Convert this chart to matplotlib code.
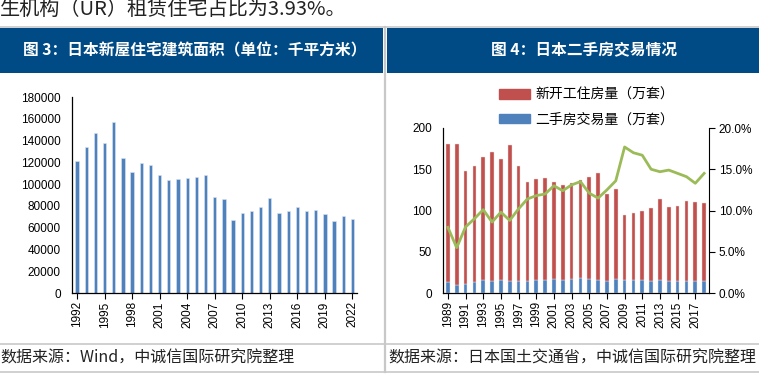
import numpy as np
import matplotlib
matplotlib.use("Agg")
from matplotlib import pyplot as plt
from matplotlib.patches import Rectangle, Patch
from matplotlib.lines import Line2D
from matplotlib.ticker import FuncFormatter

plt.rcParams['font.family'] = ['Liberation Sans', 'Noto Sans CJK SC', 'DejaVu Sans']

# figure 3: new housing floor area (thousand m2)
years_area = list(range(1992, 2023))
area = [121400, 134500, 146700, 138200, 156800, 123600, 110700, 119300, 117500, 108600,
        103400, 104600, 105600, 106500, 108300, 88200, 86300, 67400, 73500, 75700,
        79000, 87000, 73800, 75400, 78700, 75700, 76300, 72900, 66200, 71100, 68300]

# figure 4: housing starts vs second-hand trades (10k units)
years_trade = list(range(1989, 2019))
second_hand = [13.3, 9.7, 10.9, 13.3, 15.8, 14.5, 15.8, 15.0, 15.0, 14.5,
               15.8, 15.8, 17.0, 15.8, 17.0, 17.8, 16.6, 15.8, 14.5, 16.6,
               15.8, 15.8, 15.8, 14.5, 15.8, 15.0, 14.5, 15.0, 14.5, 15.0]
stack_top = [181.0, 181.0, 148.3, 153.5, 165.3, 171.3, 162.8, 179.8, 153.9, 135.0,
             137.8, 139.4, 134.5, 130.9, 132.9, 137.4, 140.6, 145.5, 120.4, 126.0,
             95.0, 97.4, 99.4, 103.4, 114.3, 104.6, 105.9, 111.9, 110.7, 109.5]
new_starts = [t - s for t, s in zip(stack_top, second_hand)]
share = [7.96, 5.5, 8.0, 9.0, 10.1, 8.6, 9.8, 8.8, 10.2, 11.4,
         11.8, 12.0, 13.0, 12.4, 13.1, 13.5, 12.1, 11.5, 12.5, 13.6,
         17.7, 17.0, 16.7, 15.0, 14.7, 14.9, 14.5, 14.1, 13.3, 14.5]

W, H = 759, 383
fig = plt.figure(figsize=(W / 100, H / 100), dpi=100)


def fx(px):
    return px / W


def fy(py):
    return 1 - py / H


cjk = ['Noto Sans CJK SC', 'DejaVu Sans']

# body text just above the charts
fig.text(fx(0), fy(15), "生机构（UR）租赁住宅占比为3.93%。", fontsize=14.5,
         family=cjk, color='#222222', va='baseline', ha='left')

# frame lines and header bands
fig.add_artist(Line2D([0, 1], [fy(27), fy(27)], color='#c8c8c8', lw=1.2))
fig.add_artist(Rectangle((0, fy(73)), fx(383), fy(28) - fy(73), color='#004a86', lw=0))
fig.add_artist(Rectangle((fx(386.5), fy(73)), 1 - fx(386.5), fy(28) - fy(73), color='#004a86', lw=0))
fig.add_artist(Line2D([fx(384.8), fx(384.8)], [fy(27), fy(372)], color='#c8c8c8', lw=1.6))
fig.add_artist(Line2D([0, 1], [fy(343.5), fy(343.5)], color='#c8c8c8', lw=1.2))
fig.add_artist(Line2D([0, 1], [fy(372), fy(372)], color='#c8c8c8', lw=1.2))

fig.text(fx(195), fy(50), "图 3：日本新屋住宅建筑面积（单位：千平方米）", color='white',
         fontsize=11.3, fontweight='bold', family=cjk, ha='center', va='center')
fig.text(fx(584), fy(50), "图 4：日本二手房交易情况", color='white',
         fontsize=11.3, fontweight='bold', family=cjk, ha='center', va='center')

fig.text(fx(0), fy(358), "数据来源：Wind，中诚信国际研究院整理", fontsize=11.5,
         family=cjk, color='#222222', ha='left', va='center')
fig.text(fx(388), fy(358), "数据来源：日本国土交通省，中诚信国际研究院整理", fontsize=11.5,
         family=cjk, color='#222222', ha='left', va='center')

# ---- left chart
ax1 = fig.add_axes([fx(72), fy(293), fx(357) - fx(72), fy(97) - fy(293)])
x1 = np.arange(len(years_area))
ax1.bar(x1, area, width=0.36, color='#4f81bd', edgecolor='#dce6f2', linewidth=0.4)
ax1.set_xlim(-0.55, len(x1) - 0.5)
ax1.set_ylim(0, 180000)
ax1.set_yticks(np.arange(0, 180001, 20000))
ax1.set_xticks(x1[::3])
ax1.set_xticklabels([str(y) for y in years_area[::3]], rotation=90)
for s in ['top', 'right']:
    ax1.spines[s].set_visible(False)
for s in ['left', 'bottom']:
    ax1.spines[s].set_color('#000000')
    ax1.spines[s].set_linewidth(0.9)
ax1.tick_params(axis='y', length=0, labelsize=8.5, pad=8)
ax1.tick_params(axis='x', length=4, direction='out', labelsize=8.5, pad=2)

# ---- right chart
ax2 = fig.add_axes([fx(443), fy(293), fx(709) - fx(443), fy(128) - fy(293)])
x2 = np.arange(len(years_trade))
ax2.bar(x2, second_hand, width=0.42, color='#4f81bd', edgecolor='#dce6f2', linewidth=0.3)
ax2.bar(x2, new_starts, width=0.42, bottom=second_hand, color='#c0504d',
        edgecolor='#f2dcdb', linewidth=0.3)
ax2.set_xlim(-0.55, len(x2) - 0.45)
ax2.set_ylim(0, 200)
ax2.set_yticks([0, 50, 100, 150, 200])
ax2.set_xticks(x2[::2])
ax2.set_xticklabels([str(y) for y in years_trade[::2]], rotation=90)
ax2.spines['top'].set_visible(False)
ax2.spines['right'].set_visible(False)
ax2.tick_params(axis='y', length=0, labelsize=8.5, pad=8)
ax2.tick_params(axis='x', length=4, direction='out', labelsize=8.5, pad=2)

ax3 = ax2.twinx()
ax3.plot(x2, share, color='#9bbb59', lw=2)
ax3.set_ylim(0, 20)
ax3.set_yticks([0, 5, 10, 15, 20])
ax3.yaxis.set_major_formatter(FuncFormatter(lambda v, p: f"{v:.1f}%"))
ax3.spines['top'].set_visible(False)
ax3.tick_params(axis='y', length=4, direction='out', labelsize=8.5, pad=3)

handles = [Patch(color='#c0504d'), Patch(color='#4f81bd')]
fig.legend(handles, ["新开工住房量（万套）", "二手房交易量（万套）"],
           loc='upper left', bbox_to_anchor=(fx(499), fy(88)), frameon=False,
           prop={'family': cjk, 'size': 10}, handlelength=2.2, handleheight=0.7,
           handletextpad=0.4, labelspacing=0.75, borderaxespad=0, borderpad=0)

fig.savefig("out.png", dpi=100)
